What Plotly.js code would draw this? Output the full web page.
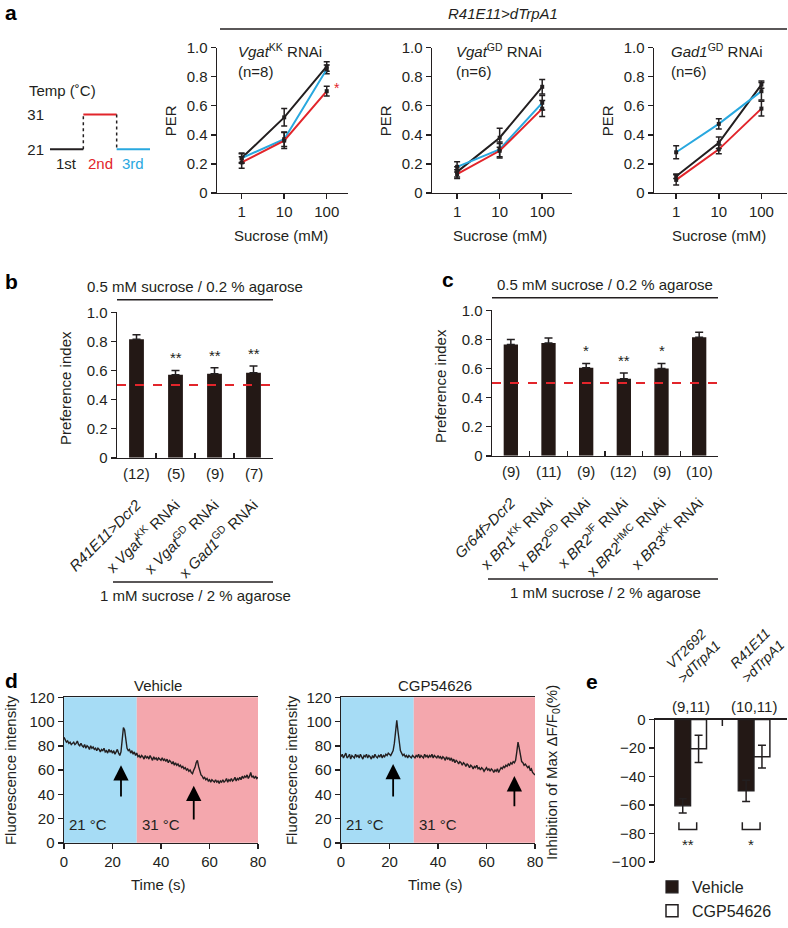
<!DOCTYPE html>
<html>
<head>
<meta charset="utf-8">
<script src="https://cdn.plot.ly/plotly-3.0.1.min.js"></script>
<style>
  html, body { margin: 0; padding: 0; background: #fff; }
  #fig { width: 788px; height: 928px; }
</style>
</head>
<body>
<div id="fig"></div>
<script>
// ---------- data ----------
// a: temperature protocol
var tempPhase = ["1st", "2nd", "3rd"];
var tempC = [21, 31, 21];

// a: PER vs sucrose, mean and sem for 1st / 2nd / 3rd trial
var sucrose = [1, 10, 100];
var kk1 = [0.24, 0.52, 0.87],   kk1Err = [0.035, 0.06, 0.033];
var kk2 = [0.21, 0.36, 0.70],   kk2Err = [0.04, 0.055, 0.033];
var kk3 = [0.24, 0.37, 0.85],   kk3Err = [0.03, 0.05, 0.03];
var gd1 = [0.145, 0.38, 0.73],  gd1Err = [0.035, 0.065, 0.05];
var gd2 = [0.13, 0.29, 0.58],   gd2Err = [0.03, 0.05, 0.055];
var gd3 = [0.18, 0.30, 0.62],   gd3Err = [0.035, 0.05, 0.05];
var gad1 = [0.115, 0.345, 0.745], gad1Err = [0.015, 0.04, 0.025];
var gad2 = [0.09, 0.30, 0.58],   gad2Err = [0.035, 0.03, 0.05];
var gad3 = [0.28, 0.475, 0.70],  gad3Err = [0.045, 0.035, 0.06];
var perTicks = [0, 0.2, 0.4, 0.6, 0.8, 1.0];
var perTickText = ["0", "0.2", "0.4", "0.6", "0.8", "1.0"];

// b: preference index
var bLabels = ["<i>R41E11>Dcr2</i>", "x <i>Vgat</i><sup>KK</sup> RNAi", "x <i>Vgat</i><sup>GD</sup> RNAi", "x <i>Gad1</i><sup>GD</sup> RNAi"];
var bN = ["(12)", "(5)", "(9)", "(7)"];
var bPI = [0.815, 0.57, 0.578, 0.585];
var bErr = [0.03, 0.03, 0.04, 0.045];
var bStars = ["", "**", "**", "**"];

// c: preference index
var cLabels = ["<i>Gr64f>Dcr2</i>", "x <i>BR1</i><sup>KK</sup> RNAi", "x <i>BR2</i><sup>GD</sup> RNAi", "x <i>BR2</i><sup>JF</sup> RNAi", "x <i>BR2</i><sup>HMC</sup> RNAi", "x <i>BR3</i><sup>KK</sup> RNAi"];
var cN = ["(9)", "(11)", "(9)", "(12)", "(9)", "(10)"];
var cPI = [0.765, 0.775, 0.605, 0.53, 0.60, 0.815];
var cErr = [0.035, 0.035, 0.03, 0.04, 0.035, 0.035];
var cStars = ["", "", "*", "**", "*", ""];
var chance = 0.5;

// d: fluorescence traces, one sample every 0.5 s
var dt = 0.5;
var vehTrace = [
  87,85,83,84,82,83,81,82,83,81,82,84,81,80,82,80,79,81,78,80,
  79,77,80,78,79,77,78,76,78,77,75,77,76,78,75,76,74,77,75,76,
  74,76,73,75,77,74,72,75,86,95,93,86,78,76,77,74,76,73,75,72,
  74,71,72,70,72,71,69,72,70,71,69,72,70,68,71,69,70,68,70,69,
  68,70,68,69,67,69,66,68,67,65,67,64,66,64,65,63,64,62,63,61,
  62,60,61,59,60,58,57,60,62,66,68,63,58,56,55,53,54,52,53,51,
  52,50,52,51,50,52,50,51,49,51,50,52,50,51,53,50,52,51,53,51,
  52,54,51,53,52,54,52,55,53,55,54,56,53,55,58,54,55,53,55,53,
  54];
var cgpTrace = [
  71,73,70,72,74,70,71,73,69,72,71,70,73,71,72,70,73,71,69,72,
  71,73,70,72,71,69,72,70,73,71,70,72,71,73,70,72,71,73,72,74,
  73,72,74,76,82,95,101,92,82,76,74,72,73,71,72,70,72,71,70,72,
  71,70,72,71,73,70,72,71,70,73,71,72,70,72,71,73,70,72,71,70,
  72,70,71,69,71,70,68,71,69,70,68,70,67,69,66,68,67,65,67,66,
  64,66,65,63,65,64,62,64,63,61,63,62,64,61,62,60,62,61,59,61,
  62,60,61,59,61,60,58,60,59,61,58,60,62,61,63,62,64,63,65,64,
  66,65,67,66,68,75,83,78,70,67,66,64,65,63,62,63,60,61,58,57,
  56];
var bathTemp = ["21 °C", "31 °C"];
var warmStart = 30, recordEnd = 80;
var vehArrowT = [23.5, 53.5], vehArrowHead = [64, 47], vehArrowTail = [37, 18];
var cgpArrowT = [21.5, 71.5], cgpArrowHead = [65, 55], cgpArrowTail = [37, 29];

// e: inhibition of max dF/F0 (%)
var eGroups = ["<i>VT2692<br>>dTrpA1</i>", "<i>R41E11<br>>dTrpA1</i>"];
var eX = [0, 1];
var eN = ["(9,11)", "(10,11)"];
var eVehicle = [-60.5, -50], eVehicleErr = [5, 7.5];
var eCGP = [-20.5, -26], eCGPErr = [9.5, 8];
var eStars = ["**", "*"];

// ---------- helpers ----------
var W = 788, H = 928;
var FONT = '"Liberation Sans", Arial, Helvetica, sans-serif';
var INK = "#231f20", RED = "#e2252b", BLUE = "#29a8df", BAR = "#231815";
var COOL = "#a6dcf5", WARM = "#f4a7ad";

function px(x) { return x / W; }
function py(y) { return 1 - y / H; }
function xdom(a, b) { return [a / W, b / W]; }
function ydom(top, bot) { return [1 - bot / H, 1 - top / H]; }

function axis(o) {
  var a = {
    showline: true, linecolor: INK, linewidth: 1.5,
    ticks: "outside", ticklen: 5, tickwidth: 1.5, tickcolor: INK,
    showgrid: false, zeroline: false, fixedrange: true,
    tickfont: { family: FONT, size: 15, color: INK },
  };
  for (var k in o) a[k] = o[k];
  return a;
}

function note(text, x, y, o) {
  var a = {
    text: text, x: px(x), y: py(y), xref: "paper", yref: "paper",
    showarrow: false, xanchor: "center", yanchor: "middle",
    font: { family: FONT, size: 15, color: INK },
  };
  for (var k in o) a[k] = o[k];
  return a;
}

function hline(x0, x1, y) {
  return { type: "line", xref: "paper", yref: "paper", x0: px(x0), x1: px(x1), y0: py(y), y1: py(y),
           line: { color: INK, width: 1.5 } };
}

var data = [];
var shapes = [];
var annotations = [];
var layout = {
  width: W, height: H,
  margin: { l: 0, r: 0, t: 0, b: 0 },
  paper_bgcolor: "#fff", plot_bgcolor: "rgba(0,0,0,0)",
  barmode: "overlay",
  font: { family: FONT, size: 15, color: INK },
  showlegend: true,
  legend: {
    x: px(652), y: py(897), xanchor: "left", yanchor: "top",
    font: { family: FONT, size: 16, color: INK },
    bgcolor: "rgba(0,0,0,0)", tracegroupgap: 0,
  },
};

// ---------- panel a: temperature protocol ----------
var phaseColor = [INK, RED, BLUE];
tempC.forEach(function (t, i) {
  data.push({ x: [i, i + 1], y: [t, t], xaxis: "x", yaxis: "y", mode: "lines",
              line: { color: phaseColor[i], width: 2 }, showlegend: false, hoverinfo: "skip" });
  if (i > 0) {
    data.push({ x: [i, i], y: [tempC[i - 1], t], xaxis: "x", yaxis: "y", mode: "lines",
                line: { color: INK, width: 1.5, dash: "dot" }, showlegend: false, hoverinfo: "skip" });
  }
  annotations.push({ text: tempPhase[i], x: i + 0.5, y: 21, xref: "x", yref: "y", yshift: -14,
                     showarrow: false, font: { family: FONT, size: 15, color: phaseColor[i] } });
});
layout.xaxis = axis({ domain: xdom(50, 150), range: [0, 3], visible: false, anchor: "y" });
layout.yaxis = axis({ domain: ydom(116.2, 155.8), range: [20.5, 31.5], showline: false, ticks: "",
                      tickvals: [21, 31], anchor: "x", ticklabelstandoff: 5 });
annotations.push(note("Temp (˚C)", 27, 93, { xanchor: "left" }));

// ---------- panel a: PER curves ----------
var aPanels = [
  { n: 2, left: 217, right: 348, range: [-0.58, 2.5], tx: 236, title: "<i>Vgat</i><sup>KK</sup> RNAi", count: "(n=8)",
    series: [[kk1, kk1Err], [kk2, kk2Err], [kk3, kk3Err]] },
  { n: 3, left: 432, right: 572, range: [-0.59, 2.7], tx: 454, title: "<i>Vgat</i><sup>GD</sup> RNAi", count: "(n=6)",
    series: [[gd1, gd1Err], [gd2, gd2Err], [gd3, gd3Err]] },
  { n: 4, left: 654, right: 787, range: [-0.52, 2.6], tx: 669, title: "<i>Gad1</i><sup>GD</sup> RNAi", count: "(n=6)",
    series: [[gad1, gad1Err], [gad2, gad2Err], [gad3, gad3Err]] },
];
aPanels.forEach(function (p) {
  var xa = "x" + p.n, ya = "y" + p.n;
  [0, 2, 1].forEach(function (s) {
    data.push({
      x: sucrose, y: p.series[s][0], xaxis: xa, yaxis: ya, mode: "lines+markers",
      line: { color: phaseColor[s], width: 2 },
      marker: { symbol: "square", size: 4, color: INK },
      error_y: { type: "data", array: p.series[s][1], color: INK, thickness: 1.5, width: 3 },
      showlegend: false, hoverinfo: "skip", cliponaxis: false,
    });
  });
  layout["xaxis" + p.n] = axis({ domain: xdom(p.left, p.right), type: "log", range: p.range,
                                 tickvals: sucrose, ticktext: sucrose.map(String), anchor: ya });
  layout["yaxis" + p.n] = axis({ domain: ydom(49, 199), range: [0, 1], tickvals: perTicks,
                                 ticktext: perTickText, anchor: xa });
  annotations.push(note(p.title, p.tx, 52, { xanchor: "left" }));
  annotations.push(note(p.count, p.tx, 74, { xanchor: "left" }));
  annotations.push(note("PER", p.left - 47, 125, { textangle: -90 }));
  annotations.push(note("Sucrose (mM)", (p.left + p.right) / 2 - 2, 243));
});
annotations.push({ text: "*", x: Math.log10(sucrose[2]), y: kk2[2] + kk2Err[2], xref: "x2", yref: "y2",
                   xshift: 10, yshift: -2, showarrow: false, font: { family: FONT, size: 14, color: RED } });
annotations.push(note("<i>R41E11>dTrpA1</i>", 503, 14));
shapes.push(hline(220, 787, 30));
annotations.push(note("<b>a</b>", 3, 13, { xanchor: "left", font: { family: FONT, size: 21, color: "#000" } }));

// ---------- panels b and c: preference index ----------
function piPanel(n, labels, counts, vals, errs, stars, left, right, top, bottom, headY, footY) {
  var xa = "x" + n, ya = "y" + n;
  data.push({
    type: "bar", x: labels, y: vals, xaxis: xa, yaxis: ya, width: 0.38,
    marker: { color: BAR },
    error_y: { type: "data", symmetric: false, array: errs, arrayminus: errs.map(function () { return 0; }),
               color: INK, thickness: 1.5, width: 4 },
    showlegend: false, hoverinfo: "skip",
  });
  layout["xaxis" + n] = axis({ domain: xdom(left, right), type: "category", range: [-0.5, labels.length - 0.5],
                               tickson: "boundaries", ticks: "inside", tickangle: -45,
                               ticklabelstandoff: 31, anchor: ya });
  layout["yaxis" + n] = axis({ domain: ydom(top, bottom), range: [0, 1], tickvals: perTicks,
                               ticktext: perTickText, anchor: xa });
  shapes.push({ type: "line", xref: xa + " domain", yref: ya, x0: 0, x1: 1, y0: chance, y1: chance,
                line: { color: RED, width: 2, dash: "dash" } });
  labels.forEach(function (lab, i) {
    annotations.push({ text: counts[i], x: lab, y: 0, xref: xa, yref: ya, yshift: -16, showarrow: false,
                       font: { family: FONT, size: 15, color: INK } });
    if (stars[i]) {
      annotations.push({ text: stars[i], x: lab, y: vals[i] + errs[i], xref: xa, yref: ya, yanchor: "bottom",
                         yshift: 2, showarrow: false, font: { family: FONT, size: 15, color: INK } });
    }
  });
  annotations.push(note("Preference index", left - 51, (top + bottom) / 2 + 3, { textangle: -90 }));
  var mid = (left + right) / 2;
  annotations.push(note("0.5 mM sucrose / 0.2 % agarose", mid, headY));
  shapes.push(hline(left, right, headY + 14));
  shapes.push(hline(left - 4, right, footY));
  annotations.push(note("1 mM sucrose / 2 % agarose", mid, footY + 14));
}
piPanel(5, bLabels, bN, bPI, bErr, bStars, 117, 273, 322, 472, 295, 600);
piPanel(6, cLabels, cN, cPI, cErr, cStars, 492, 718, 320, 470, 293, 597);
annotations.push(note("<b>b</b>", 3, 290, { xanchor: "left", font: { family: FONT, size: 21, color: "#000" } }));
annotations.push(note("<b>c</b>", 440, 288, { xanchor: "left", font: { family: FONT, size: 21, color: "#000" } }));

// ---------- panel d: imaging traces ----------
function tracePanel(n, trace, title, arrowT, arrowHead, arrowTail, left, right) {
  var xa = "x" + n, ya = "y" + n;
  var t = trace.map(function (v, i) { return i * dt; });
  data.push({ x: t, y: trace, xaxis: xa, yaxis: ya, mode: "lines", line: { color: INK, width: 1.4 },
              showlegend: false, hoverinfo: "skip" });
  layout["xaxis" + n] = axis({ domain: xdom(left, right), range: [0, recordEnd], dtick: 20, mirror: true, anchor: ya });
  layout["yaxis" + n] = axis({ domain: ydom(719, 869), range: [0, 120], dtick: 20, anchor: xa });
  shapes.push({ type: "rect", xref: xa, yref: ya + " domain", x0: 0, x1: warmStart, y0: 0, y1: 1,
                fillcolor: COOL, line: { width: 0 }, layer: "below" });
  shapes.push({ type: "rect", xref: xa, yref: ya + " domain", x0: warmStart, x1: recordEnd, y0: 0, y1: 1,
                fillcolor: WARM, line: { width: 0 }, layer: "below" });
  [0, warmStart].forEach(function (x0, i) {
    annotations.push({ text: bathTemp[i], x: x0, y: 15, xref: xa, yref: ya, xanchor: "left", xshift: 3,
                       showarrow: false, font: { family: FONT, size: 15, color: INK } });
  });
  arrowT.forEach(function (tt, i) {
    annotations.push({ text: "", x: tt, y: arrowHead[i], ax: tt, ay: arrowTail[i], xref: xa, yref: ya,
                       axref: xa, ayref: ya, showarrow: true, arrowhead: 2, arrowsize: 1.7, arrowwidth: 1.8,
                       arrowcolor: "#000" });
  });
  var mid = (left + right) / 2;
  annotations.push(note(title, mid - 3, 707));
  annotations.push(note("Time (s)", mid - 3, 912));
}
tracePanel(7, vehTrace, "Vehicle", vehArrowT, vehArrowHead, vehArrowTail, 64, 258);
tracePanel(8, cgpTrace, "CGP54626", cgpArrowT, cgpArrowHead, cgpArrowTail, 341, 535);
annotations.push(note("Fluorescence intensity", 10, 794, { textangle: -90 }));
annotations.push(note("Fluorescence intensity", 291, 794, { textangle: -90 }));
annotations.push(note("<b>d</b>", 3, 702, { xanchor: "left", font: { family: FONT, size: 21, color: "#000" } }));

// ---------- panel e: inhibition ----------
var half = 0.125;
data.push({
  type: "bar", name: "Vehicle", x: eX.map(function (g) { return g - half; }), y: eVehicle,
  width: 2 * half, xaxis: "x9", yaxis: "y9",
  marker: { color: BAR, line: { color: INK, width: 1.2 } },
  error_y: { type: "data", array: eVehicleErr, color: INK, thickness: 1.5, width: 4 },
  hoverinfo: "skip",
});
data.push({
  type: "bar", name: "CGP54626", x: eX.map(function (g) { return g + half; }), y: eCGP,
  width: 2 * half, xaxis: "x9", yaxis: "y9",
  marker: { color: "#fff", line: { color: INK, width: 1.5 } },
  error_y: { type: "data", array: eCGPErr, color: INK, thickness: 1.5, width: 4 },
  hoverinfo: "skip",
});
eX.forEach(function (g, i) {
  var b0 = g - half - 0.06, b1 = g + half - 0.03;
  data.push({ x: [b0, b0, b1, b1], y: [-72, -77, -77, -72], xaxis: "x9", yaxis: "y9", mode: "lines",
              line: { color: INK, width: 1.5 }, showlegend: false, hoverinfo: "skip", cliponaxis: false });
  annotations.push({ text: eStars[i], x: (b0 + b1) / 2, y: -77, xref: "x9", yref: "y9", yanchor: "top",
                     yshift: -5, showarrow: false, font: { family: FONT, size: 15, color: INK } });
  annotations.push({ text: eN[i], x: g, y: 0, xref: "x9", yref: "y9", yshift: 13, showarrow: false,
                     font: { family: FONT, size: 15, color: INK } });
  annotations.push({ text: eGroups[i], x: g, y: 0, xref: "x9", yref: "y9", xshift: 2, yshift: 31,
                     yanchor: "bottom", xanchor: "center", textangle: -45, align: "center",
                     showarrow: false, font: { family: FONT, size: 14, color: INK } });
});
shapes.push({ type: "line", xref: "x9", yref: "y9", x0: (eX[0] + eX[1]) / 2, x1: (eX[0] + eX[1]) / 2,
              y0: 0, y1: -4.5, line: { color: INK, width: 1.5 } });
layout.xaxis9 = axis({ domain: xdom(655, 787), range: [-0.5625, 1.52], side: "top", tickvals: eX,
                       showticklabels: false, ticks: "", anchor: "y9" });
layout.yaxis9 = axis({ domain: ydom(742, 889), range: [-100, 0], dtick: 20, anchor: "x9" });
annotations.push(note("Inhibition of Max ΔF/F<sub>0</sub>(%)", 553, 797, { textangle: -90 }));
annotations.push(note("<b>e</b>", 584, 703, { xanchor: "left", font: { family: FONT, size: 21, color: "#000" } }));

layout.shapes = shapes;
layout.annotations = annotations;

Plotly.newPlot("fig", data, layout, { staticPlot: true, displayModeBar: false });
</script>
</body>
</html>
